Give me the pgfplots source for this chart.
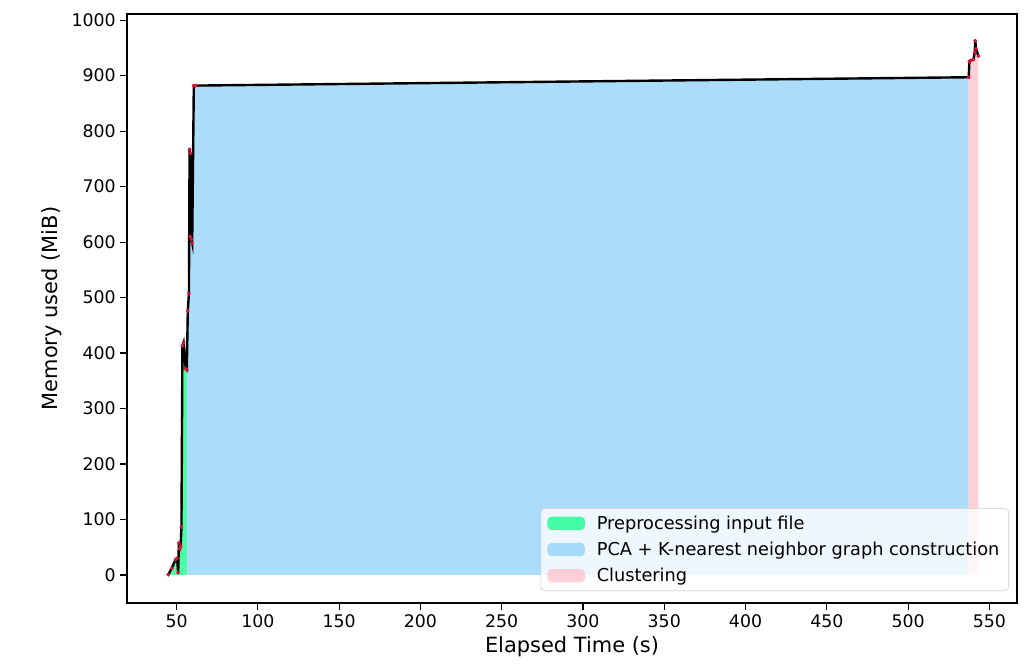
\documentclass[border=0pt]{standalone}
\usepackage{fontspec}
\setmainfont{DejaVu Sans}
\usepackage{pgfplots}
\pgfplotsset{compat=1.18}
\definecolor{cgreen}{HTML}{00FF7F}
\definecolor{cblue}{HTML}{87CEFA}
\definecolor{cpink}{HTML}{FFC0CB}
\definecolor{cmark}{HTML}{DC143C}
\pgfplotsset{patchlegend/.style={legend image code/.code={\fill[##1] (0pt,-5pt) rectangle (28pt,5pt);}}}
\begin{document}
\begin{tikzpicture}
\useasboundingbox (-95.25pt,-48.75pt) rectangle (680.25pt,452.25pt);
\begin{axis}[
 scale only axis, width=667.5pt, height=441.75pt,
 xmin=19.5, xmax=567, ymin=-50.5, ymax=1011,
 xtick={50,100,...,550}, ytick={0,100,...,1000},
 tick align=outside, xtick pos=bottom, ytick pos=left,
 major tick length=5pt,
 tick style={black, line width=0.8pt},
 axis line style={line width=0.8pt},
 ticklabel style={font=\fontsize{13}{15}\selectfont},
 /pgf/number format/assume math mode=true,
 /pgf/number format/1000 sep={},
 xlabel={Elapsed Time (s)}, ylabel={Memory used (MiB)},
 label style={font=\fontsize{15.7}{18}\selectfont},
 legend style={at={(rel axis cs:1,0)}, anchor=south east, xshift=-6pt, yshift=9pt,
   draw=black!20, rounded corners=3pt, fill=white, fill opacity=0.8, text opacity=1,
   font=\fontsize{13.3}{15}\selectfont, row sep=4pt, column sep=7pt, inner xsep=5pt, inner ysep=3.5pt},
 legend cell align=left,
]
\addplot[draw=none, fill=cgreen, fill opacity=0.7, patchlegend] coordinates {
(44.9,0) (44.9,0.5) (47.0,12) (49.4,28) (50.3,30) (51.0,4) (51.4,58) (52.0,47) (52.5,52) (53.0,86) (53.6,413) (54.3,419) (55.6,372) (56.3,370) (56.3,0)};
\addlegendentry{Preprocessing input file}
\addplot[draw=none, fill=cblue, fill opacity=0.7, patchlegend] coordinates {
(56.3,0) (56.3,370) (56.9,476) (57.6,507) (58.0,767) (58.4,610) (58.7,760) (59.1,605) (59.6,598) (60.6,882) (62.0,882) (537.3,897) (537.3,0)};
\addlegendentry{PCA + K-nearest neighbor graph construction}
\addplot[draw=none, fill=cpink, fill opacity=0.75, patchlegend] coordinates {
(537.3,0) (537.3,897) (537.7,925) (538.3,927) (540.2,929) (541.0,942) (541.3,963) (541.8,948) (543.3,935) (543.3,0)};
\addlegendentry{Clustering}
\addplot[black, line width=1.8pt, mark=*, mark size=1.3pt, mark options={fill=cmark, draw=cmark, line width=0.3pt}, forget plot] table {
44.9 0.5
47.0 12
49.4 28
50.3 30
51.0 4
51.4 58
52.0 47
52.5 52
53.0 86
53.6 413
54.3 419
55.6 372
56.3 370
56.9 476
57.6 507
58.0 767
58.4 610
58.7 760
59.1 605
59.6 598
60.6 882
62.0 882
537.3 897
537.7 925
538.3 927
540.2 929
541.0 942
541.3 963
541.8 948
543.3 935
};
\end{axis}
\end{tikzpicture}
\end{document}
